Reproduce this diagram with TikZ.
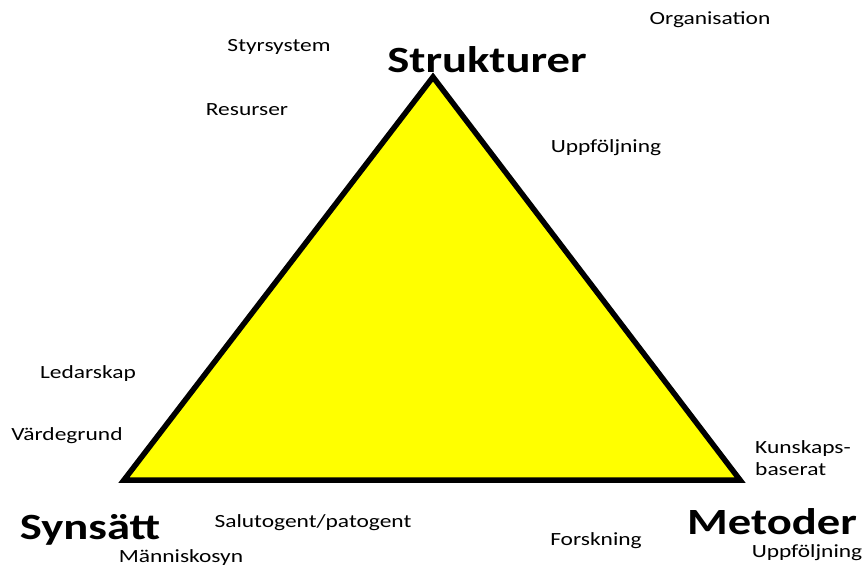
\documentclass[tikz,border=0pt]{standalone}
\usepackage{fontspec}
\setmainfont{Carlito}[FakeStretch=1.26]
\definecolor{triyellow}{RGB}{255,255,0}
\begin{document}
\begin{tikzpicture}[x=1pt,y=-1pt,
  small/.style={font=\fontsize{18.6}{22}\selectfont, inner sep=0pt, anchor=center},
  title/.style={font=\fontsize{37}{40}\selectfont\bfseries, inner sep=0pt, anchor=center},
  tri/.style={draw=black, line width=5.5pt, fill=triyellow, line join=miter}]
\useasboundingbox (0,0) rectangle (867,569);
\coordinate (top) at (433,77);
\coordinate (bl) at (124,480);
\coordinate (br) at (740,480);
\draw[tri] (top) -- (bl) -- (br) -- cycle;
\node[title] (strukturer) at (487,60) {Strukturer};
\node[title] (synsatt) at (90,530) {Synsätt};
\node[title] (metoder) at (772,522) {Metoder};
\node[small] (org) at (710,20) {Organisation};
\node[small] (styr) at (279,47) {Styrsystem};
\node[small] (res) at (247,110) {Resurser};
\node[small] (upp1) at (606,148) {Uppföljning};
\node[small] (led) at (88,374) {Ledarskap};
\node[small] (vard) at (67,436) {Värdegrund};
\node[small, anchor=west, align=left] (kun) at (755,458) {Kunskaps-\\baserat};
\node[small] (salu) at (313,523) {Salutogent/patogent};
\node[small] (mann) at (181,558) {Människosyn};
\node[small] (forsk) at (596,541) {Forskning};
\node[small] (upp2) at (807,553) {Uppföljning};
\end{tikzpicture}
\end{document}
